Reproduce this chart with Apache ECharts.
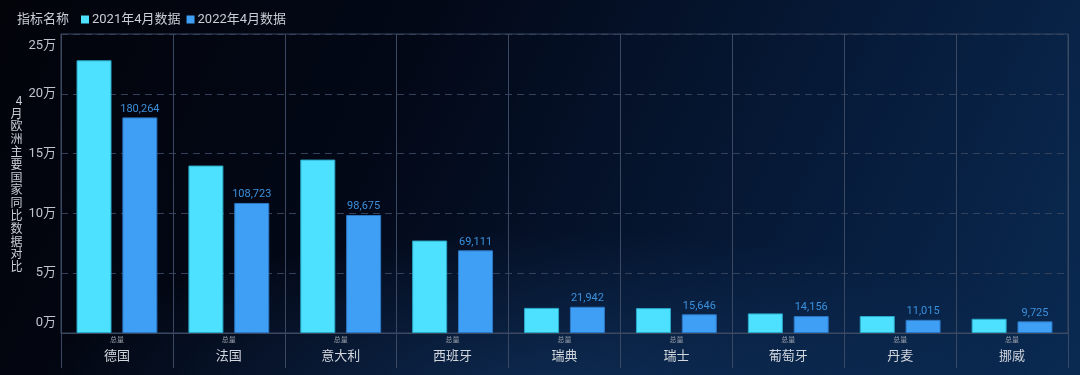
<!DOCTYPE html>
<html>
<head>
<meta charset="utf-8">
<script src="https://cdn.jsdelivr.net/npm/echarts@6/dist/echarts.min.js"></script>
<style>
  html, body { margin: 0; padding: 0; }
  body {
    width: 1080px; height: 375px; overflow: hidden;
    background:
      radial-gradient(ellipse 520px 160px at 560px 390px, rgba(20,60,110,0.55), rgba(20,60,110,0) 100%),
      linear-gradient(115deg, #02040a 0%, #030817 35%, #061a38 70%, #0a2a52 100%);
  }
  #chart { width: 1080px; height: 375px; }
</style>
</head>
<body>
<div id="chart"></div>
<script>
const countries = ['德国', '法国', '意大利', '西班牙', '瑞典', '瑞士', '葡萄牙', '丹麦', '挪威'];
const subLabels = ['总量', '总量', '总量', '总量', '总量', '总量', '总量', '总量', '总量'];
const seriesNames = ['2021年4月数据', '2022年4月数据'];
const data2021 = [228000, 140000, 145000, 77300, 21000, 20800, 16400, 14200, 11900];
const data2022 = [180264, 108723, 98675, 69111, 21942, 15646, 14156, 11015, 9725];
const yTicks = [0, 50000, 100000, 150000, 200000, 250000];
const yAxisName = '4月欧洲主要国家同比数据对比';

const FONT = '"Noto Sans CJK SC", "Noto Sans", sans-serif';
const NUMFONT = 'Roboto, "Noto Sans CJK SC", sans-serif';
const lineColor = '#3a4862';
const chart = echarts.init(document.getElementById('chart'), null, { renderer: 'canvas' });

const option = {
  backgroundColor: 'transparent',
  textStyle: { fontFamily: FONT },
  title: {
    text: '指标名称',
    left: 12, top: 7,
    textStyle: { color: '#c9cdd4', fontSize: 13, fontWeight: 'normal', fontFamily: FONT }
  },
  legend: {
    left: 76, top: 8,
    itemWidth: 8, itemHeight: 8, itemGap: 6,
    icon: 'rect',
    data: seriesNames,
    itemStyle: { borderWidth: 0 },
    textStyle: { color: '#c9cdd4', fontSize: 13, fontFamily: NUMFONT, padding: [0, 0, 0, -2] }
  },
  grid: {
    left: 61, right: 12, top: 34, bottom: 42,
    show: true, borderColor: lineColor, borderWidth: 1
  },
  xAxis: [
    {
      type: 'category',
      data: subLabels,
      axisLine: { show: true, lineStyle: { color: lineColor } },
      axisTick: { show: false },
      axisLabel: { color: '#9aa0aa', fontSize: 7, margin: 3, interval: 0, fontFamily: FONT },
      splitLine: { show: true, interval: 0, lineStyle: { color: lineColor, width: 1 } }
    },
    {
      type: 'category',
      data: countries,
      position: 'bottom',
      axisLine: { show: false },
      axisTick: { show: true, length: 35, interval: 0, lineStyle: { color: lineColor } },
      axisLabel: { color: '#d2d6dd', fontSize: 13, margin: 16, interval: 0, fontFamily: FONT },
      splitLine: { show: false }
    }
  ],
  yAxis: {
    type: 'value',
    min: yTicks[0],
    max: yTicks[yTicks.length - 1],
    interval: yTicks[1] - yTicks[0],
    name: yAxisName.split('').join('\n'),
    nameLocation: 'middle',
    nameGap: 38,
    nameRotate: 0,
    nameTextStyle: { color: '#c9cdd4', fontSize: 12, lineHeight: 12.8, fontFamily: FONT },
    axisLine: { show: false },
    axisTick: { show: false },
    axisLabel: {
      color: '#c0c4cc', fontSize: 13, margin: 5, fontFamily: NUMFONT,
      formatter: function (v) {
        const t = (v / 10000) + '万';
        if (v === yTicks[0]) return '{lo|' + t + '}';
        if (v === yTicks[yTicks.length - 1]) return '{hi|' + t + '}';
        return t;
      },
      rich: {
        lo: { color: '#c0c4cc', fontSize: 13, padding: [0, 0, 21, 0], fontFamily: NUMFONT },
        hi: { color: '#c0c4cc', fontSize: 13, padding: [23, 0, 0, 0], fontFamily: NUMFONT }
      }
    },
    splitLine: { show: true, lineStyle: { color: '#34415a', type: [7, 5], width: 1 } }
  },
  series: [
    {
      name: seriesNames[0],
      type: 'bar',
      xAxisIndex: 0,
      data: data2021,
      barWidth: 35,
      barGap: '31%',
      itemStyle: { color: '#4de1ff', borderColor: '#2aa9c9', borderWidth: 1 }
    },
    {
      name: seriesNames[1],
      type: 'bar',
      xAxisIndex: 0,
      data: data2022,
      barWidth: 35,
      barGap: '31%',
      itemStyle: { color: '#3f9ff5', borderColor: '#2d78c4', borderWidth: 1 },
      label: {
        show: true, position: 'top', distance: 3,
        color: '#3b90dc', fontSize: 11, fontFamily: NUMFONT,
        formatter: function (p) { return p.value.toLocaleString('en-US'); }
      }
    }
  ]
};
chart.setOption(option);
</script>
</body>
</html>
